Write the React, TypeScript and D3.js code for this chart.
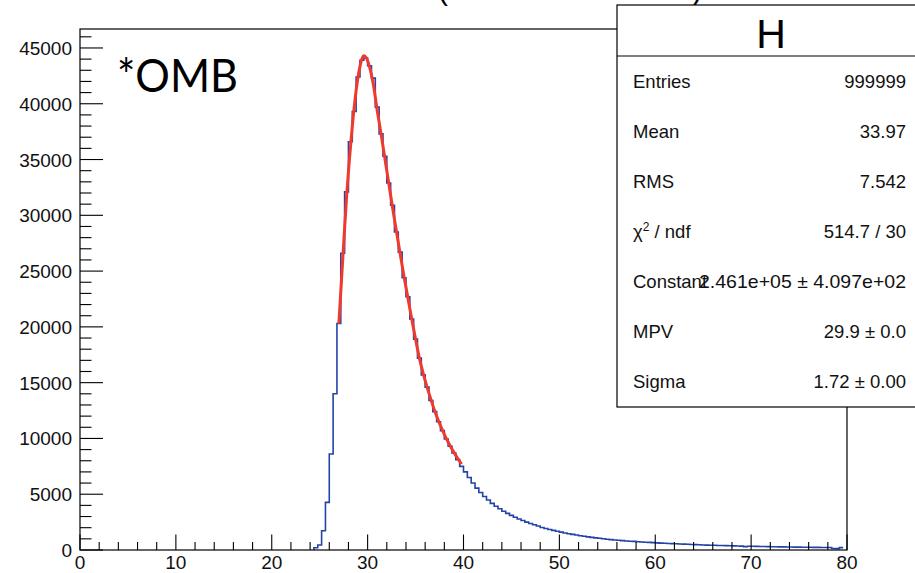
import React, { useEffect, useRef } from "react";
import * as d3 from "d3";

// ---- data ----
const binStart = 24.4;
const binWidth = 0.4;
const counts: number[] = [
  200, 450, 1730, 4270, 8600, 14000, 20300, 26600, 32100, 36600,
  39300, 42400, 43900, 44100, 43400, 42300, 39700, 37300, 35300, 32900,
  30900, 28500, 26700, 24400, 22700, 20700, 18900, 17200, 15700, 14600,
  13400, 12400, 11500, 10700, 9950, 9300, 8700, 8100, 7500, 7000,
  6500, 6000, 5550, 5150, 4800, 4480, 4180, 3920, 3700, 3480,
  3280, 3100, 2940, 2780, 2640, 2500, 2380, 2260, 2150, 2020,
  1930, 1840, 1760, 1680, 1600, 1530, 1460, 1400, 1340, 1280,
  1230, 1180, 1130, 1090, 1050, 1010, 970, 930, 900, 870,
  840, 810, 790, 770, 745, 720, 700, 680, 660, 640,
  620, 600, 585, 570, 555, 540, 525, 510, 495, 480,
  465, 450, 440, 430, 420, 410, 400, 390, 380, 370,
  360, 350, 300, 340, 330, 322, 315, 308, 300, 294,
  288, 282, 276, 270, 265, 260, 255, 250, 245, 240,
  236, 232, 228, 224, 220, 140, 120, 210,
];

const fitX: number[] = [
  27.0, 27.4, 27.8, 28.2, 28.6, 29.0, 29.4, 29.6, 29.8, 30.2, 30.6, 31.0,
  31.4, 31.8, 32.2, 32.6, 33.0, 33.4, 33.8, 34.2, 34.6, 35.0, 35.4, 35.8,
  36.2, 36.6, 37.0, 37.4, 37.8, 38.2, 38.6, 39.0, 39.4, 39.8,
];
const fitY: number[] = [
  20300, 26000, 31600, 36000, 39700, 42400, 44000, 44300, 44200, 43300, 41700, 39400,
  37300, 35100, 32900, 30700, 28600, 26500, 24500, 22600, 20700, 18900, 17200, 15800,
  14600, 13500, 12450, 11550, 10750, 10000, 9350, 8750, 8200, 7700,
];

const xTicks: number[] = [0, 10, 20, 30, 40, 50, 60, 70, 80];
const yTicks: number[] = [0, 5000, 10000, 15000, 20000, 25000, 30000, 35000, 40000, 45000];

const statsLabels: string[] = ["Entries", "Mean", "RMS", "CHI", "Constant", "MPV", "Sigma"];
const statsValues: string[] = [
  "999999", "33.97", "7.542", "514.7 / 30",
  "2.461e+05 \u00b1 4.097e+02", "29.9 \u00b1 0.0", "1.72 \u00b1 0.00",
];

const W = 915;
const H = 573;
const FONT = "'Liberation Sans', Arial, Helvetica, sans-serif";

export default function App() {
  const ref = useRef<SVGSVGElement | null>(null);

  useEffect(() => {
    const svg = d3.select(ref.current);
    svg.selectAll("*").remove();

    const left = 80, right = 847, top = 29, bottom = 550;
    const x = d3.scaleLinear().domain([0, 80]).range([left, right]);
    const y = d3.scaleLinear().domain([0, 46700]).range([bottom, top]);

    svg.append("rect").attr("width", W).attr("height", H).attr("fill", "#fff");

    // title fragment (cut off at the top in the reference)
    svg.append("text").attr("x", 443).attr("y", 0).attr("font-size", 30)
      .attr("font-family", FONT).attr("text-anchor", "middle").text("(");
    svg.append("text").attr("x", 697).attr("y", 0).attr("font-size", 30)
      .attr("font-family", FONT).attr("text-anchor", "middle").text(")");

    svg.append("clipPath").attr("id", "plotclip").append("rect")
      .attr("x", left).attr("y", top).attr("width", right - left).attr("height", bottom - top);

    // histogram
    const pts: [number, number][] = [[binStart, 0]];
    counts.forEach((c, i) => pts.push([binStart + i * binWidth, c]));
    pts.push([binStart + counts.length * binWidth, counts[counts.length - 1]]);
    const histLine = d3.line<[number, number]>()
      .x((d) => x(d[0])).y((d) => y(d[1])).curve(d3.curveStepAfter);
    svg.append("path").attr("d", histLine(pts) || "")
      .attr("fill", "none").attr("stroke", "#2243a8").attr("stroke-width", 1.6)
      .attr("clip-path", "url(#plotclip)");

    // fit curve
    const fitPts: [number, number][] = fitX.map((v, i) => [v, fitY[i]]);
    const fitLine = d3.line<[number, number]>()
      .x((d) => x(d[0])).y((d) => y(d[1])).curve(d3.curveMonotoneX);
    svg.append("path").attr("d", fitLine(fitPts) || "")
      .attr("fill", "none").attr("stroke", "#ef3a2d").attr("stroke-width", 3)
      .attr("stroke-linejoin", "round");

    // frame
    svg.append("rect").attr("x", left).attr("y", top).attr("width", right - left)
      .attr("height", bottom - top).attr("fill", "none").attr("stroke", "#000").attr("stroke-width", 1.2);

    // x ticks
    const gx = svg.append("g");
    for (let v = 0; v <= 80; v += 2) {
      const major = v % 10 === 0;
      gx.append("line").attr("x1", x(v)).attr("x2", x(v))
        .attr("y1", bottom).attr("y2", bottom - (major ? 15.5 : 8))
        .attr("stroke", "#000").attr("stroke-width", 1.1);
    }
    xTicks.forEach((v) => {
      gx.append("text").attr("x", x(v)).attr("y", 569).attr("text-anchor", "middle")
        .attr("font-size", 19).attr("font-family", FONT).attr("fill", "#111").text(String(v));
    });

    // y ticks
    const gy = svg.append("g");
    for (let v = 0; v <= 46000; v += 1000) {
      const major = v % 5000 === 0;
      gy.append("line").attr("x1", left).attr("x2", left + (major ? 23 : 11.5))
        .attr("y1", y(v)).attr("y2", y(v)).attr("stroke", "#000").attr("stroke-width", 1.1);
    }
    yTicks.forEach((v) => {
      gy.append("text").attr("x", 72).attr("y", y(v) + 7).attr("text-anchor", "end")
        .attr("font-size", 19).attr("font-family", FONT).attr("fill", "#111").text(String(v));
    });

    // *OMB label
    svg.append("text").attr("x", 117).attr("y", 92).attr("font-size", 47)
      .attr("font-family", "Lato, 'Open Sans', sans-serif").attr("fill", "#000")
      .attr("textLength", 121).attr("lengthAdjust", "spacingAndGlyphs").text("*OMB");

    // stats box
    const bx = 617, by = 5, bw = 320, bh = 402;
    svg.append("rect").attr("x", bx).attr("y", by).attr("width", bw).attr("height", bh)
      .attr("fill", "#fff").attr("stroke", "#000").attr("stroke-width", 1.2);
    svg.append("line").attr("x1", bx).attr("x2", bx + bw).attr("y1", 56).attr("y2", 56)
      .attr("stroke", "#000").attr("stroke-width", 1.2);
    svg.append("text").attr("x", 771).attr("y", 48).attr("text-anchor", "middle")
      .attr("font-size", 41).attr("font-family", FONT).text("H");

    statsLabels.forEach((lab, i) => {
      const cy = 81 + i * 50.1;
      const t = svg.append("text").attr("x", 633).attr("y", cy + 6.5)
        .attr("font-size", 18.5).attr("font-family", FONT).attr("fill", "#111");
      if (lab === "CHI") {
        t.append("tspan").text("\u03c7");
        t.append("tspan").attr("font-size", 12).attr("dy", -7).text("2");
        t.append("tspan").attr("dy", 7).text(" / ndf");
      } else {
        t.text(lab);
      }
      const v = svg.append("text").attr("x", 906).attr("y", cy + 6.5).attr("text-anchor", "end")
        .attr("font-size", 18.5).attr("font-family", FONT).attr("fill", "#111").text(statsValues[i]);
      if (lab === "Constant") {
        v.attr("textLength", 207).attr("lengthAdjust", "spacingAndGlyphs");
      }
    });
  }, []);

  return (
    <svg ref={ref} width={W} height={H}
      style={{ position: "absolute", left: 0, top: 0, display: "block" }} />
  );
}
